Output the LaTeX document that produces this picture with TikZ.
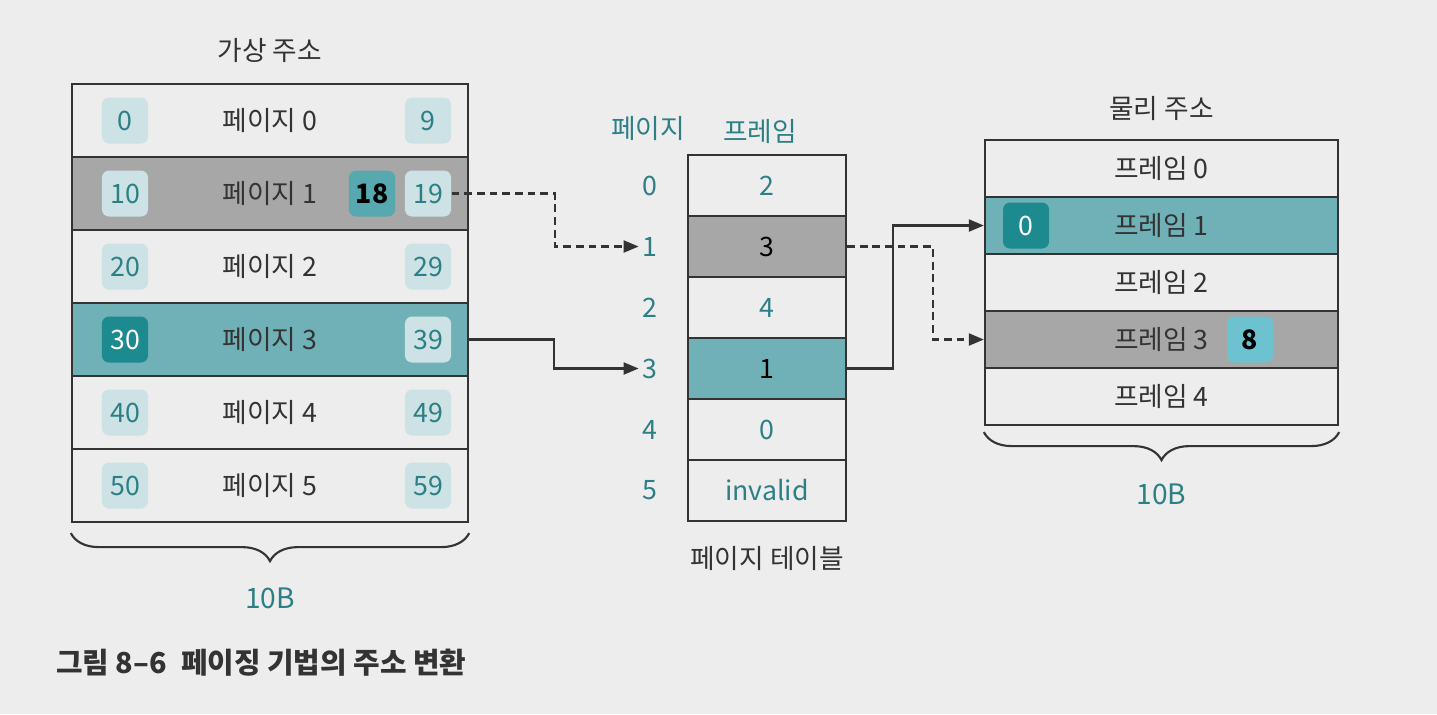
\documentclass[tikz,border=0pt]{standalone}
\usepackage{fontspec}
\setmainfont{Noto Sans CJK KR}
\usetikzlibrary{positioning,arrows.meta,decorations.pathreplacing}

\definecolor{paper}{HTML}{EDEDED}
\definecolor{grayrow}{HTML}{A7A7A7}
\definecolor{tealrow}{HTML}{6FB1B7}
\definecolor{tealtext}{HTML}{2D7F86}
\definecolor{numlight}{HTML}{CDE2E4}
\definecolor{numdeep}{HTML}{1C8A8F}
\definecolor{nummid}{HTML}{58A8B0}
\definecolor{numbright}{HTML}{6CC3CF}
\definecolor{ink}{HTML}{333333}

\tikzset{
  base/.style={font=\fontsize{7.6}{8.5}\selectfont, inner sep=1pt},
  vrow/.style={base, draw=ink, line width=0.6pt, minimum width=3.96cm, minimum height=0.73cm, text=ink},
  ptrow/.style={base, draw=ink, line width=0.6pt, minimum width=1.58cm, minimum height=0.61cm, text=tealtext},
  frow/.style={base, draw=ink, line width=0.6pt, minimum width=3.53cm, minimum height=0.57cm, text=ink},
  numbox/.style={base, fill=numlight, rounded corners=2pt, minimum width=0.46cm, minimum height=0.46cm, text=tealtext},
  numdark/.style={numbox, fill=numdeep, text=white},
  numbold/.style={numbox, fill=nummid, text=black, font=\fontsize{7.6}{8.5}\selectfont\bfseries},
  pagenum/.style={base, text=tealtext},
  title/.style={base, text=ink},
  sizelabel/.style={base, text=tealtext, font=\fontsize{8}{9}\selectfont},
  link/.style={line width=0.6pt, draw=ink, -{Triangle[length=0.15cm,width=0.12cm]}},
  dlink/.style={link, dash pattern=on 2.2pt off 1.4pt},
  sizebrace/.style={decorate, decoration={brace, mirror, amplitude=0.28cm}, line width=0.6pt, draw=ink}
}

\begin{document}
\begin{tikzpicture}[x=0.01cm, y=-0.01cm]
  \useasboundingbox (0,0) rectangle (1437,714);
  \fill[paper] (0,0) rectangle (1437,714);

  % virtual address space
  \foreach \n/\f/\s in {0/paper/numbox,1/grayrow/numbox,2/paper/numbox,3/tealrow/numdark,4/paper/numbox,5/paper/numbox}{
    \pgfmathtruncatemacro\vlo{10*\n}
    \pgfmathtruncatemacro\vhi{10*\n+9}
    \node[vrow, fill=\f] (v\n) at (270,{120.5+73*\n}) {페이지 \n};
    \node[\s] (lo\n) at (125,{120.5+73*\n}) {\vlo};
    \node[numbox] (hi\n) at (428,{120.5+73*\n}) {\vhi};
  }
  \node[numbold] (off18) at (372,193.5) {18};
  \node[title, above=0.16cm of v0] (vtitle) {가상 주소};
  \draw[sizebrace] ([yshift=-0.1cm]v5.south west) -- ([yshift=-0.1cm]v5.south east)
    node[midway, below=0.5cm, sizelabel] (vsize) {10B};

  % page table
  \foreach \n/\v/\f/\t in {0/2/paper/tealtext,1/3/grayrow/black,2/4/paper/tealtext,3/1/tealrow/black,4/0/paper/tealtext,5/invalid/paper/tealtext}{
    \node[ptrow, fill=\f, text=\t] (pt\n) at (767,{185.5+61*\n}) {\v};
    \node[pagenum, left=0.25cm of pt\n] (pi\n) {\n};
  }
  \node[pagenum] (hpage) at (648,128) {페이지};
  \node[pagenum] (hframe) at (760,131) {프레임};
  \node[title, below=0.2cm of pt5] (pttitle) {페이지 테이블};

  % physical address space
  \foreach \n/\f in {0/paper,1/tealrow,2/paper,3/grayrow,4/paper}
    \node[frow, fill=\f] (f\n) at (1161.5,{168.5+57*\n}) {프레임 \n};
  \node[numdark] (fo0) at (1026,225.5) {0};
  \node[numbold, fill=numbright] (fo8) at (1250,339.5) {8};
  \node[title, above=0.14cm of f0] (ftitle) {물리 주소};
  \draw[sizebrace] ([yshift=-0.06cm]f4.south west) -- ([yshift=-0.06cm]f4.south east)
    node[midway, below=0.47cm, sizelabel] (fsize) {10B};

  % mappings
  \draw[dlink] (hi1.east) -- ++(103,0) |- (pi1.west);
  \draw[link] (v3.east) -- ++(85,0) |- (pi3.west);
  \draw[dlink] (pt1.east) -- ++(86,0) |- (f3.west);
  \draw[link] (pt3.east) -- ++(46,0) |- (f1.west);

  \node[title, anchor=west, font=\fontsize{8.2}{9}\selectfont\bfseries] (cap) at (52,663) {그림 8–6\enspace 페이징 기법의 주소 변환};
\end{tikzpicture}
\end{document}
